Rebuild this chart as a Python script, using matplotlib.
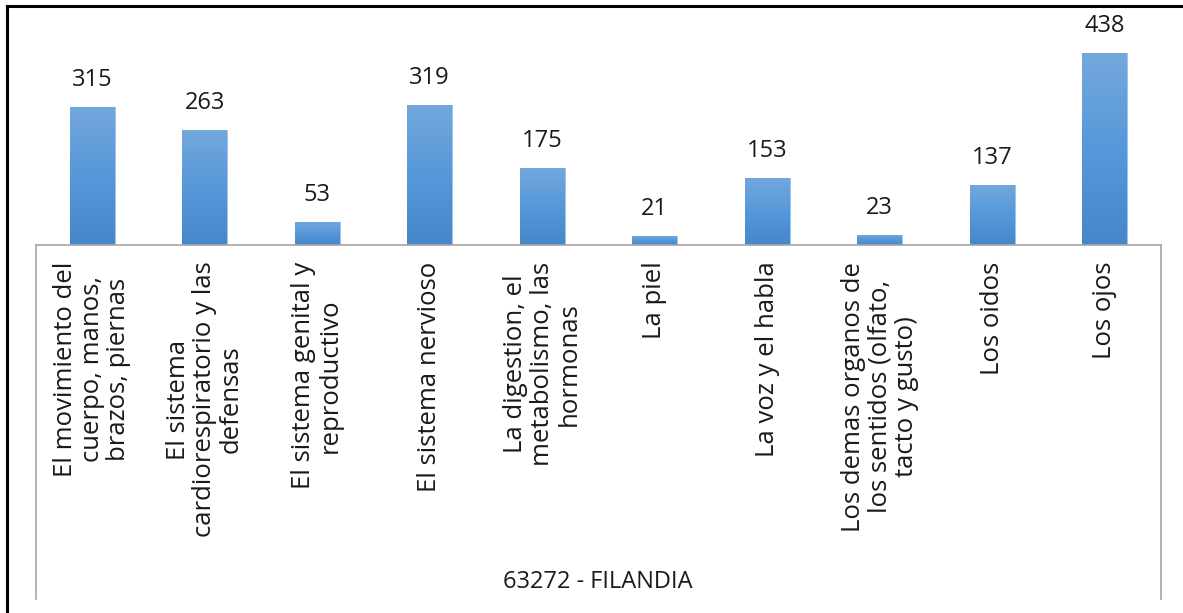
import numpy as np
import matplotlib
matplotlib.use("Agg")
import matplotlib.pyplot as plt
from matplotlib.colors import LinearSegmentedColormap
from matplotlib.lines import Line2D

# categories and counts
categorias = [
    "El movimiento del\ncuerpo, manos,\nbrazos, piernas",
    "El sistema\ncardiorespiratorio y las\ndefensas",
    "El sistema genital y\nreproductivo",
    "El sistema nervioso",
    "La digestion, el\nmetabolismo, las\nhormonas",
    "La piel",
    "La voz y el habla",
    "Los demas organos de\nlos sentidos (olfato,\ntacto y gusto)",
    "Los oidos",
    "Los ojos",
]
valores = [315, 263, 53, 319, 175, 21, 153, 23, 137, 438]
titulo_eje = "63272 - FILANDIA"

plt.rcParams["font.family"] = ["Open Sans", "DejaVu Sans"]

W, H = 1183, 613
fig = plt.figure(figsize=(W / 100, H / 100), dpi=100)

# plot area in pixels (measured on the reference)
x0, x1 = 36, 1161
base_y = 245
px_per_unit = 192 / 438
ymax = 500
top_y = base_y - ymax * px_per_unit
ax = fig.add_axes([x0 / W, 1 - base_y / H, (x1 - x0) / W, (base_y - top_y) / H])

x = np.arange(len(valores))
bars = ax.bar(x, valores, width=0.4, color="#5B9BD5", edgecolor="#9cc3e8", linewidth=0.6, zorder=2)

# vertical gradient inside each bar, like the Excel default style
cmap = LinearSegmentedColormap.from_list("azul", ["#4686c9", "#5698da", "#74a8dd"])
grad = np.linspace(0, 1, 256).reshape(-1, 1)
for b in bars:
    im = ax.imshow(grad, cmap=cmap, aspect="auto", origin="lower",
                   extent=[b.get_x(), b.get_x() + b.get_width(), 0, b.get_height()], zorder=3)
    im.set_clip_path(b)

for xi, v in zip(x, valores):
    ax.annotate(str(v), (xi, v), xytext=(0, 15), textcoords="offset points",
                ha="center", va="baseline", fontsize=17, color="#1a1a1a")

ax.set_xlim(-0.5, len(valores) - 0.5)
ax.set_ylim(0, ymax)
ax.set_xticks(x)
ax.set_xticklabels(categorias, rotation=90, fontsize=18.5, color="#1a1a1a",
                   multialignment="center", linespacing=1.08)
ax.tick_params(axis="x", length=0, pad=12)
ax.set_yticks([])
for s in ["top", "right", "left"]:
    ax.spines[s].set_visible(False)
ax.spines["bottom"].set_color("#a6a6a6")
ax.spines["bottom"].set_linewidth(1.2)
ax.spines["bottom"].set_zorder(4)

# category frame below the axis
bot_y = 599
for xp in (x0, x1):
    fig.add_artist(Line2D([xp / W, xp / W], [1 - base_y / H, 1 - bot_y / H],
                          color="#a6a6a6", linewidth=1.2))

fig.text(598 / W, 1 - 582 / H, titulo_eje, ha="center", va="center",
         fontsize=17, color="#1a1a1a")

# outer chart border (only top and left visible in the crop)
fig.add_artist(Line2D([7 / W, 7 / W], [0, 1 - 5.5 / H], color="black", linewidth=2.2))
fig.add_artist(Line2D([7 / W, 1], [1 - 5.5 / H, 1 - 5.5 / H], color="black", linewidth=2.2))

fig.savefig("out.png", dpi=100, facecolor="white")
